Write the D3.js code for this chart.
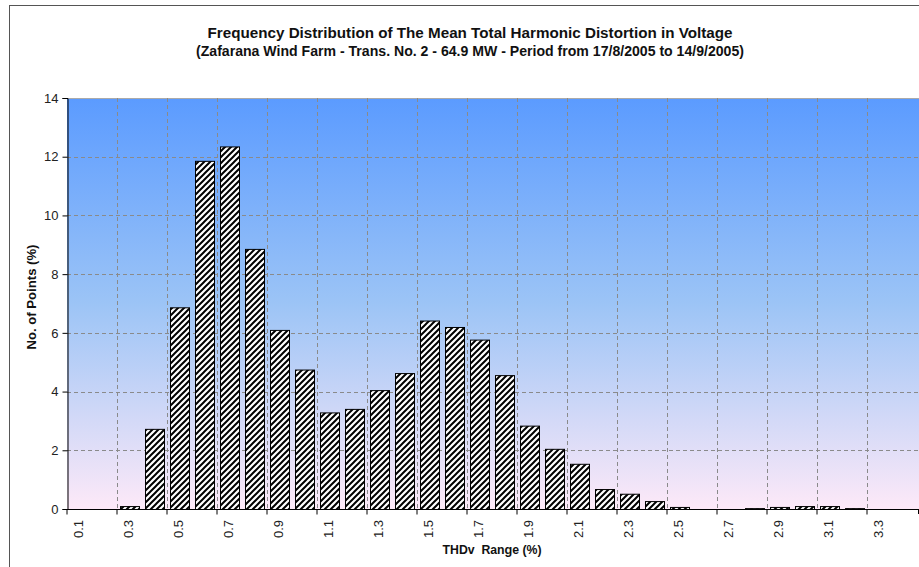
<!DOCTYPE html>
<html>
<head>
<meta charset="utf-8">
<script src="https://cdn.jsdelivr.net/npm/d3@7"></script>
<style>
  html, body { margin: 0; padding: 0; background: #fff; }
  svg { display: block; font-family: "Liberation Sans", Arial, sans-serif; }
</style>
</head>
<body>
<svg id="chart" width="919" height="567"></svg>
<script>
// ---- Data ----
const categories = ["0.1","0.2","0.3","0.4","0.5","0.6","0.7","0.8","0.9","1.0",
  "1.1","1.2","1.3","1.4","1.5","1.6","1.7","1.8","1.9","2.0",
  "2.1","2.2","2.3","2.4","2.5","2.6","2.7","2.8","2.9","3.0",
  "3.1","3.2","3.3","3.4"];
const values = [0, 0, 0.1, 2.73, 6.87, 11.86, 12.35, 8.86, 6.1, 4.75,
  3.29, 3.41, 4.05, 4.63, 6.42, 6.2, 5.77, 4.56, 2.84, 2.05,
  1.54, 0.68, 0.52, 0.27, 0.07, 0, 0, 0.03, 0.07, 0.1,
  0.1, 0.03, 0, 0];
const xTickLabels = ["0.1","0.3","0.5","0.7","0.9","1.1","1.3","1.5","1.7","1.9",
  "2.1","2.3","2.5","2.7","2.9","3.1","3.3"];
const yTicks = [0, 2, 4, 6, 8, 10, 12, 14];
const titleLines = [
  "Frequency Distribution of The Mean Total Harmonic Distortion in Voltage",
  "(Zafarana Wind Farm - Trans. No. 2 - 64.9 MW - Period from 17/8/2005 to 14/9/2005)"
];
const xTitle = "THDv  Range (%)";
const yTitle = "No. of Points (%)";

// ---- Layout ----
const svg = d3.select("#chart");
const plot = { left: 67, top: 98, right: 917, bottom: 509 };

const x = d3.scaleBand().domain(categories)
  .range([plot.left, plot.right]).paddingInner(0.24).paddingOuter(0.12);
const y = d3.scaleLinear().domain([0, 14]).range([plot.bottom, plot.top]);
const half = (x.step() - x.bandwidth()) / 2;

// defs: gradient + hatch
const defs = svg.append("defs");
const grad = defs.append("linearGradient").attr("id", "bg")
  .attr("x1", 0).attr("y1", 0).attr("x2", 0).attr("y2", 1);
grad.append("stop").attr("offset", "0%").attr("stop-color", "#5b9bff");
grad.append("stop").attr("offset", "50%").attr("stop-color", "#9cc4f6");
grad.append("stop").attr("offset", "100%").attr("stop-color", "#fde9f8");

const pat = defs.append("pattern").attr("id", "hatch")
  .attr("patternUnits", "userSpaceOnUse").attr("width", 6).attr("height", 6);
pat.append("rect").attr("width", 6).attr("height", 6).attr("fill", "#fff");
pat.append("path").attr("d", "M0,6 L6,0 M-1.5,1.5 L1.5,-1.5 M4.5,7.5 L7.5,4.5")
  .attr("stroke", "#000").attr("stroke-width", 2);

// outer chart border
svg.append("rect").attr("x", 9.5).attr("y", 5.5).attr("width", 930).attr("height", 600)
  .attr("fill", "#fff").attr("stroke", "#555").attr("stroke-width", 1);

// plot background
svg.append("rect").attr("x", plot.left).attr("y", plot.top)
  .attr("width", plot.right - plot.left + 2).attr("height", plot.bottom - plot.top)
  .attr("fill", "url(#bg)");
svg.append("line").attr("x1", plot.left).attr("x2", plot.right + 2)
  .attr("y1", plot.top + 0.5).attr("y2", plot.top + 0.5)
  .attr("stroke", "#aaa");

// horizontal grid
svg.append("g").selectAll("line").data(yTicks.filter(d => d > 0 && d < 14)).join("line")
  .attr("x1", plot.left).attr("x2", plot.right + 2)
  .attr("y1", d => Math.round(y(d)) + 0.5).attr("y2", d => Math.round(y(d)) + 0.5)
  .attr("stroke", "#8a8a8a").attr("stroke-dasharray", "4,3");

// vertical grid at category boundaries of labelled ticks
svg.append("g").selectAll("line").data(xTickLabels.slice(1)).join("line")
  .attr("x1", d => Math.round(x(d) - half) + 0.5).attr("x2", d => Math.round(x(d) - half) + 0.5)
  .attr("y1", plot.top).attr("y2", plot.bottom)
  .attr("stroke", "#8a8a8a").attr("stroke-dasharray", "4,3");

// bars
svg.append("g").selectAll("rect").data(categories.map((c, i) => ({ c, v: values[i] })).filter(d => d.v > 0))
  .join("rect")
  .attr("x", d => x(d.c) + 0.5)
  .attr("y", d => y(d.v) + 0.5)
  .attr("width", x.bandwidth())
  .attr("height", d => Math.max(0, y(0) - y(d.v)))
  .attr("fill", "url(#hatch)")
  .attr("stroke", "#000").attr("stroke-width", 1);

// y axis
const yAxis = svg.append("g").attr("transform", `translate(${plot.left + 0.5},0)`)
  .call(d3.axisLeft(y).tickValues(yTicks).tickSize(5).tickPadding(4).tickFormat(d3.format("d")));
yAxis.select(".domain").attr("stroke", "#000");
yAxis.selectAll(".tick line").attr("stroke", "#000");
yAxis.selectAll("text").attr("font-size", 13).attr("fill", "#222")
  .attr("font-family", "Liberation Sans, Arial, sans-serif");

// x axis
const xAxis = svg.append("g").attr("transform", `translate(0,${plot.bottom + 0.5})`)
  .call(d3.axisBottom(x).tickValues(xTickLabels).tickSize(5).tickSizeOuter(0));
xAxis.select(".domain").attr("stroke", "#000").attr("d", `M${plot.left},0H${plot.right + 2}`);
xAxis.selectAll(".tick line").attr("stroke", "#000")
  .attr("x1", -half - x.bandwidth() / 2).attr("x2", -half - x.bandwidth() / 2);
xAxis.selectAll(".tick text")
  .attr("font-size", 13).attr("fill", "#222")
  .attr("font-family", "Liberation Sans, Arial, sans-serif")
  .attr("transform", "rotate(-90)")
  .attr("text-anchor", "end").attr("x", -10.5).attr("y", -1).attr("dy", "0.35em");
// right end tick
svg.append("line").attr("x1", plot.right + 1.5).attr("x2", plot.right + 1.5)
  .attr("y1", plot.bottom).attr("y2", plot.bottom + 5).attr("stroke", "#000");

// titles
const titleWidths = [525, 548];
const t = svg.append("text").attr("text-anchor", "middle")
  .attr("font-size", 14).attr("font-weight", "bold").attr("fill", "#111");
titleLines.forEach((s, i) => t.append("tspan").attr("x", 470).attr("y", 38 + i * 18)
  .attr("textLength", titleWidths[i]).attr("lengthAdjust", "spacingAndGlyphs").text(s));

svg.append("text").attr("x", 492).attr("y", 554).attr("text-anchor", "middle")
  .attr("font-size", 12).attr("font-weight", "bold").attr("fill", "#111")
  .attr("textLength", 99).attr("lengthAdjust", "spacingAndGlyphs")
  .attr("xml:space", "preserve").text(xTitle);

svg.append("text").attr("transform", "translate(35.5,297) rotate(-90)")
  .attr("text-anchor", "middle").attr("font-size", 12).attr("font-weight", "bold")
  .attr("textLength", 105).attr("lengthAdjust", "spacingAndGlyphs")
  .attr("fill", "#111").text(yTitle);
</script>
</body>
</html>
